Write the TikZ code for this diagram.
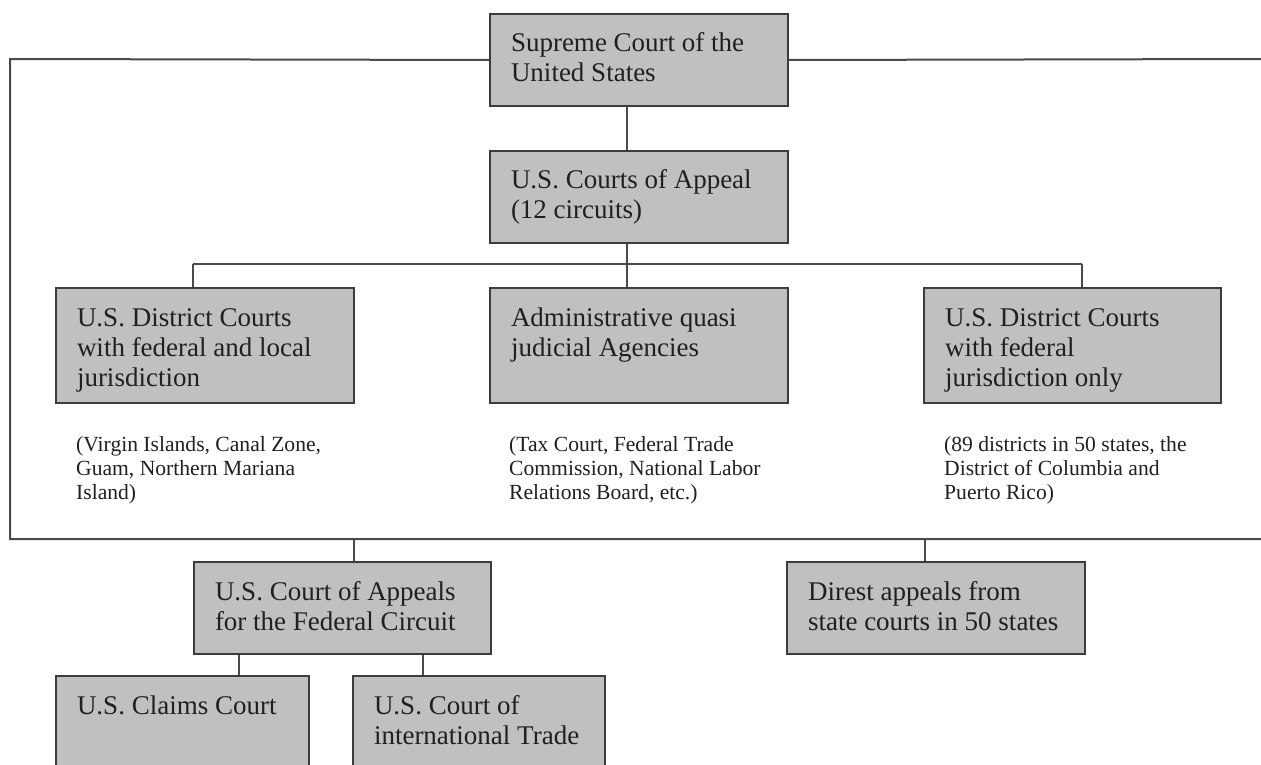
\documentclass[tikz,border=0pt]{standalone}
\usepackage{fontspec}
\setmainfont{Liberation Serif}
\definecolor{boxfill}{HTML}{C0C0C0}
\definecolor{edge}{HTML}{3C3C3C}
\definecolor{wire}{HTML}{4A4A4A}
\definecolor{ink}{HTML}{202020}
\newcommand{\boxtext}[3]{\parbox[c][#1][t]{#2}{\raggedright\rule{0pt}{38pt}#3}}
\newcommand{\notetext}[1]{\parbox[t]{290pt}{\raggedright #1}}
\begin{document}
\begin{tikzpicture}[x=1pt,y=-1pt,
  court/.style={draw=edge, fill=boxfill, line width=2pt, anchor=north west, text=ink,
    inner xsep=21pt, inner ysep=0pt, font=\fontsize{27}{30}\selectfont},
  note/.style={anchor=north west, inner sep=0pt, text=ink, font=\fontsize{21.6}{24}\selectfont},
  wires/.style={draw=wire, line width=2pt}]
\useasboundingbox (0,0) rectangle (1261,765);
\clip (0,0) rectangle (1261,765);
\fill[white] (0,0) rectangle (1261,765);

% boxes
\node[court] (sup) at (489,13) {\boxtext{92pt}{256pt}{Supreme Court of the\\United States}};
\node[court] (app) at (489,150) {\boxtext{92pt}{256pt}{U.S. Courts of Appeal\\(12 circuits)}};
\node[court] (dl) at (55,287) {\boxtext{115pt}{256pt}{U.S. District Courts\\with federal and local\\jurisdiction}};
\node[court] (adm) at (489,287) {\boxtext{115pt}{256pt}{Administrative quasi\\judicial Agencies}};
\node[court] (dr) at (923,287) {\boxtext{115pt}{255pt}{U.S. District Courts\\with federal\\jurisdiction only}};
\node[court] (fed) at (193,561) {\boxtext{92pt}{255pt}{U.S. Court of Appeals\\for the Federal Circuit}};
\node[court] (dir) at (786,561) {\boxtext{92pt}{256pt}{Direst appeals from\\state courts in 50 states}};
\node[court] (clm) at (55,675) {\boxtext{120pt}{211pt}{U.S. Claims Court}};
\node[court] (itl) at (352,675) {\boxtext{120pt}{210pt}{U.S. Court of\\international Trade}};

% notes
\node[note] (ndl) at (76,436) {\notetext{(Virgin Islands, Canal Zone,\\Guam, Northern Mariana\\Island)}};
\node[note] (nadm) at (509,436) {\notetext{(Tax Court, Federal Trade\\Commission, National Labor\\Relations Board, etc.)}};
\node[note] (ndr) at (944,436) {\notetext{(89 districts in 50 states, the\\District of Columbia and\\Puerto Rico)}};

% free ends of the outer frame and the bus
\coordinate (tl) at (10,59);
\coordinate (bl) at (10,539);
\coordinate (br) at (1261,539);
\coordinate (tr) at (1261,59);
\coordinate (busl) at (193,264);
\coordinate (busr) at (1082,264);

% connectors
\draw[wires] (sup.west) -- (tl) -- (bl) -- (br);
\draw[wires] (sup.east) -- (tr);
\draw[wires] ([xshift=-12pt]sup.south) -- ([xshift=-12pt]app.north);
\draw[wires] ([xshift=-12pt]app.south) -- ([xshift=-12pt]adm.north);
\draw[wires] (busl) -- (busr);
\draw[wires] (busl) -- (busl |- dl.north);
\draw[wires] (busr) -- (busr |- dr.north);
\draw[wires] ([xshift=11pt]fed.north |- bl) -- ([xshift=11pt]fed.north);
\draw[wires] ([xshift=-11pt]dir.north |- bl) -- ([xshift=-11pt]dir.north);
\draw[wires] ([xshift=-103.5pt]fed.south) -- ([xshift=-103.5pt]fed.south |- clm.north);
\draw[wires] ([xshift=80.5pt]fed.south) -- ([xshift=80.5pt]fed.south |- itl.north);
\end{tikzpicture}
\end{document}
